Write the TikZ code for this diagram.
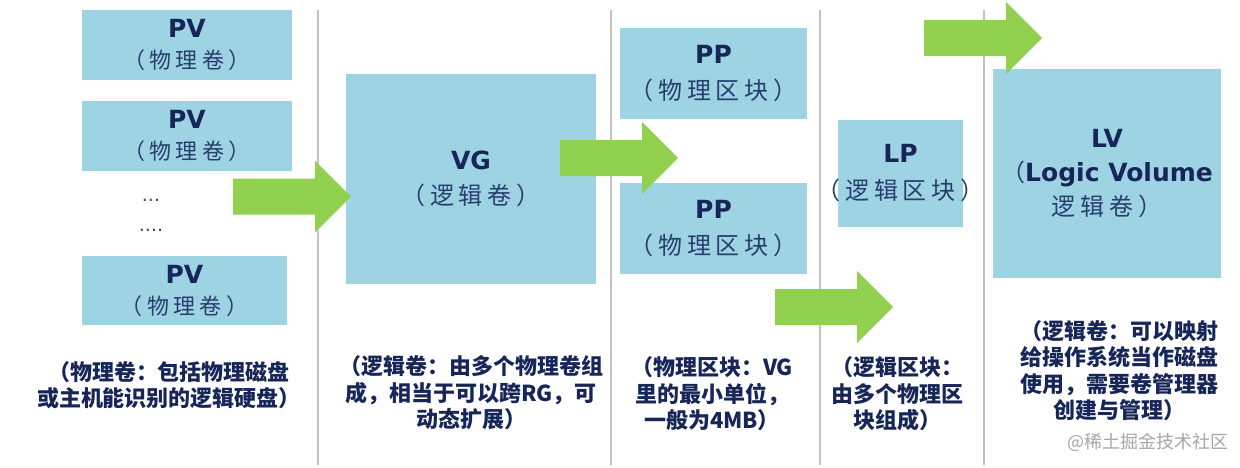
\documentclass[tikz,border=0pt]{standalone}
\usepackage{fontspec}
\setmainfont{DejaVu Sans}
\newfontfamily\cjk{Noto Sans CJK SC}
\newfontfamily\cjkwide{Noto Sans CJK SC}[LetterSpace=20]
\definecolor{boxblue}{RGB}{158,211,227}
\definecolor{arrowgreen}{RGB}{146,208,80}
\definecolor{navy}{RGB}{22,38,88}
\definecolor{boxtext}{RGB}{40,62,110}
\definecolor{rulegray}{RGB}{195,195,195}

\begin{document}
\begin{tikzpicture}[
  x=1pt, y=-1pt,
  blk/.style={fill=boxblue, inner sep=0pt, align=center, text=navy},
  note/.style={align=center, text=navy, inner sep=0pt,
               font=\cjk\bfseries\fontsize{22}{26.5}\selectfont},
  sep/.style={draw=rulegray, line width=1.2pt},
  big/.style={fill=arrowgreen}
]
  \useasboundingbox (0,0) rectangle (1240,467);

  % column separators
  \foreach \x in {318, 611, 820, 984}
    \draw[sep] (\x,10) -- (\x,465);

  % PV column
  \node[blk, minimum width=210pt, minimum height=70pt, font=\fontsize{22}{31}\selectfont]
    (pv1) at (187,45) {{\bfseries\fontsize{25}{30}\selectfont PV}\\{\cjkwide\color{boxtext}（物理卷）}};
  \node[blk, minimum width=210pt, minimum height=70pt, font=\fontsize{22}{31}\selectfont]
    (pv2) at (187,136) {{\bfseries\fontsize{25}{30}\selectfont PV}\\{\cjkwide\color{boxtext}（物理卷）}};
  \node[text=black!70, font=\fontsize{19}{20}\selectfont, inner sep=0pt] (dots1) at (151,200) {...};
  \node[text=black!70, font=\fontsize{19}{20}\selectfont, inner sep=0pt] (dots2) at (151,230) {....};
  \node[blk, minimum width=205pt, minimum height=69pt, font=\fontsize{22}{31}\selectfont]
    (pv3) at (184.5,290.5) {{\bfseries\fontsize{25}{30}\selectfont PV}\\{\cjkwide\color{boxtext}（物理卷）}};

  % VG
  \node[blk, minimum width=250pt, minimum height=210pt, font=\fontsize{24}{35}\selectfont]
    (vg) at (471,179) {{\bfseries\fontsize{25}{30}\selectfont VG}\\{\cjkwide\color{boxtext}（逻辑卷）}};

  % PP
  \node[blk, minimum width=187pt, minimum height=91pt, font=\fontsize{24}{36}\selectfont]
    (pp1) at (713.5,73.5) {{\bfseries\fontsize{25}{30}\selectfont PP}\\{\cjkwide\color{boxtext}（物理区块）}};
  \node[blk, minimum width=187pt, minimum height=91pt, font=\fontsize{24}{36}\selectfont]
    (pp2) at (713.5,228.5) {{\bfseries\fontsize{25}{30}\selectfont PP}\\{\cjkwide\color{boxtext}（物理区块）}};

  % LP (its label runs wider than the box)
  \node[blk, minimum width=125pt, minimum height=107pt] (lp) at (900.5,173.5) {};
  \node[align=center, text=navy, inner sep=0pt, font=\fontsize{24}{37}\selectfont]
    (lptext) at (lp.center) {{\bfseries\fontsize{25}{30}\selectfont LP}\\{\cjkwide\color{boxtext}（逻辑区块）}};

  % LV
  \node[blk, minimum width=228pt, minimum height=209pt, font=\fontsize{24}{34}\selectfont]
    (lv) at (1107,173.5) {{\bfseries\fontsize{25}{30}\selectfont LV}\\{\cjk\color{boxtext}（}{\bfseries\fontsize{25}{30}\selectfont Logic Volume}\\{\cjkwide\color{boxtext}逻辑卷）}};

  % green block arrows
  \foreach \x/\y in {233/196.5, 560/158, 775/307, 924/38}
    \fill[big] (\x,\y) ++(0,-18) -- ++(82,0) -- ++(0,-18) -- ++(36,36)
      -- ++(-36,36) -- ++(0,-18) -- ++(-82,0) -- cycle;

  % notes
  \node[note] (pvnote) at (169,385) {（物理卷：包括物理磁盘\\或主机能识别的逻辑硬盘）};
  \node[note] (vgnote) at (471,393) {（逻辑卷：由多个物理卷组\\成，相当于可以跨RG，可\\动态扩展）};
  \node[note] (ppnote) at (712,394) {（物理区块：VG\\里的最小单位，\\一般为4MB）};
  \node[note] (lpnote) at (897,394) {（逻辑区块：\\由多个物理区\\块组成）};
  \node[note] (lvnote) at (1119,370.5) {（逻辑卷：可以映射\\给操作系统当作磁盘\\使用，需要卷管理器\\创建与管理）};

  \node[text=black!35, font=\cjk\fontsize{18}{20}\selectfont, inner sep=0pt]
    (mark) at (1148,442) {@稀土掘金技术社区};
\end{tikzpicture}
\end{document}
